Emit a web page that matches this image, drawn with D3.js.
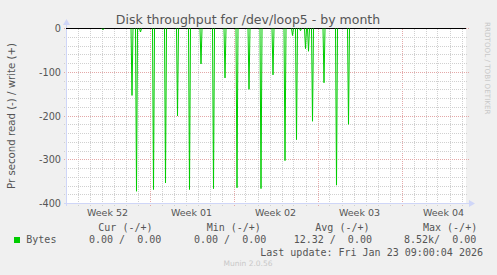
<!DOCTYPE html>
<html>
<head>
<meta charset="utf-8">
<script src="https://cdn.jsdelivr.net/npm/d3@7"></script>
<style>
  body { margin: 0; background: #f0f0f0; }
  svg { display: block; font-family: "DejaVu Sans", sans-serif; }
  .mono text { font-family: "DejaVu Sans Mono", monospace; white-space: pre; }
</style>
</head>
<body>
<svg width="497" height="275"></svg>
<script>
const svg = d3.select('svg');

const width = +svg.attr('width');
const height = +svg.attr('height');

// data (read bytes are drawn negative)
const startTime = '2025-12-21 01:00';
const endTime = '2026-01-23 09:00';
const spikeTimes = [
  '2025-12-24 03:00', '2025-12-26 13:00', '2025-12-26 22:00', '2025-12-27 06:00',
  '2025-12-28 08:00', '2025-12-29 08:00', '2025-12-30 08:00', '2025-12-31 08:00',
  '2026-01-01 07:00', '2026-01-02 08:00', '2026-01-03 07:00', '2026-01-04 07:00',
  '2026-01-05 07:00', '2026-01-06 07:00', '2026-01-07 07:00', '2026-01-08 07:00',
  '2026-01-08 22:00', '2026-01-09 06:00', '2026-01-09 14:00', '2026-01-10 00:00',
  '2026-01-10 06:00', '2026-01-10 14:00', '2026-01-11 13:00', '2026-01-12 14:00',
  '2026-01-13 14:00'
];
const spikeValues = [
  -3, -153, -372, -8,
  -368, -353, -200, -368,
  -81, -366, -113, -364,
  -139, -366, -106, -302,
  -16, -254, -5, -46,
  -52, -212, -124, -358,
  -219
];
const yTicks = [0, -100, -200, -300, -400];
const title = 'Disk throughput for /dev/loop5 - by month';
const yLabel = 'Pr second read (-) / write (+)';
const seriesName = 'Bytes';
const legendHeaders = ['Cur (-/+)', 'Min (-/+)', 'Avg (-/+)', 'Max (-/+)'];
const legendValues = ['0.00 /  0.00', '0.00 /  0.00', '12.32 /  0.00', '8.52k/  0.00'];
const lastUpdate = 'Last update: Fri Jan 23 09:00:04 2026';
const credit = 'RRDTOOL / TOBI OETIKER';
const version = 'Munin 2.0.56';

const parse = d3.utcParse('%Y-%m-%d %H:%M');
const start = parse(startTime);
const end = parse(endTime);
const step = 2 * 3600 * 1000;

const plot = { left: 66, right: 466, top: 28.5, bottom: 203.5 };
const textColor = '#555';
const green = '#00cc00';
const axisColor = '#cfd6f8';
const gridColor = '#d0d0d0';
const majorColor = '#e4a8a8';

const xScale = d3.scaleUtc()
  .domain([start, end])
  .range([plot.left, plot.right]);

const yScale = d3.scaleLinear()
  .domain([-400, 0])
  .range([plot.bottom, plot.top]);

svg.append('rect')
  .attr('width', width).attr('height', height)
  .attr('fill', '#f0f0f0');

svg.append('rect')
  .attr('x', plot.left).attr('y', plot.top)
  .attr('width', plot.right - plot.left)
  .attr('height', plot.bottom - plot.top)
  .attr('fill', '#fff');

const grid = svg.append('g')
  .attr('stroke-width', 1)
  .attr('stroke-dasharray', '1,1')
  .attr('shape-rendering', 'crispEdges');

// vertical grid: days minor, sundays major
const days = d3.utcDay.range(d3.utcDay.ceil(start), end);
const sundays = d3.utcSunday.range(d3.utcSunday.ceil(start), end);
const xPix = d => Math.round(xScale(d)) + 0.5;

grid.selectAll('line.vday').data(days)
  .enter().append('line')
    .attr('class', 'vday')
    .attr('x1', xPix).attr('x2', xPix)
    .attr('y1', plot.top).attr('y2', plot.bottom + 2)
    .attr('stroke', gridColor);

grid.selectAll('line.vweek').data(sundays)
  .enter().append('line')
    .attr('class', 'vweek')
    .attr('x1', xPix).attr('x2', xPix)
    .attr('y1', plot.top).attr('y2', plot.bottom + 2)
    .attr('stroke', majorColor);

// horizontal grid: every 20 minor, every 100 major
const yMinor = d3.range(-380, 0, 20).filter(v => v % 100 !== 0);
const yPix = v => Math.round(yScale(v) - 0.5) + 0.5;

grid.selectAll('line.hminor').data(yMinor)
  .enter().append('line')
    .attr('class', 'hminor')
    .attr('x1', plot.left - 2).attr('x2', plot.right + 2)
    .attr('y1', yPix).attr('y2', yPix)
    .attr('stroke', gridColor);

grid.selectAll('line.hmajor').data(yTicks.filter(v => v !== -400))
  .enter().append('line')
    .attr('class', 'hmajor')
    .attr('x1', plot.left - 2).attr('x2', plot.right + 3)
    .attr('y1', yPix).attr('y2', yPix)
    .attr('stroke', majorColor);

// axes
const axis = svg.append('g')
  .attr('stroke', axisColor)
  .attr('shape-rendering', 'crispEdges');

axis.append('line')
  .attr('x1', plot.left + 0.5).attr('x2', plot.left + 0.5)
  .attr('y1', plot.bottom + 2).attr('y2', 22);

axis.append('line')
  .attr('x1', plot.left - 2).attr('x2', plot.right + 4)
  .attr('y1', plot.bottom).attr('y2', plot.bottom);

svg.append('path')
  .attr('d', `M${plot.left - 3},25 L${plot.left + 0.5},19 L${plot.left + 4},25 Z`)
  .attr('fill', axisColor);

svg.append('path')
  .attr('d', `M${plot.right + 3},${plot.bottom - 3.5} L${plot.right + 9},${plot.bottom} L${plot.right + 3},${plot.bottom + 3.5} Z`)
  .attr('fill', axisColor);

// y tick labels
svg.append('g').selectAll('text').data(yTicks)
  .enter().append('text')
    .attr('x', 61)
    .attr('y', d => yScale(d) + 3.5)
    .attr('text-anchor', 'end')
    .attr('font-size', 9.7)
    .attr('fill', textColor)
    .text(d => d);

// week labels sit in the middle of each week
const weekStarts = d3.utcSunday.range(d3.utcSunday.floor(start), end)
  .filter(s => +s + 3.5 * 864e5 <= +end);
const weekFormat = d3.utcFormat('%V');

svg.append('g').selectAll('text').data(weekStarts)
  .enter().append('text')
    .attr('x', d => xScale(new Date(+d + 3.5 * 864e5)))
    .attr('y', 215.5)
    .attr('text-anchor', 'middle')
    .attr('font-size', 9.5)
    .attr('fill', textColor)
    .text(d => 'Week ' + weekFormat(new Date(+d + 3.5 * 864e5)));

// write (+) is zero all month: black line along 0
svg.append('line')
  .attr('x1', plot.left).attr('x2', plot.right)
  .attr('y1', plot.top).attr('y2', plot.top)
  .attr('stroke', '#000')
  .attr('stroke-width', 1);

// read (-) spikes
const spikes = spikeTimes.map((t, i) => {
  const d = parse(t);
  return [[new Date(+d - step), 0], [d, spikeValues[i]], [new Date(+d + step), 0]];
});

const line = d3.line()
  .x(d => xScale(d[0]))
  .y(d => yScale(d[1]));

svg.append('g').selectAll('path').data(spikes)
  .enter().append('path')
    .attr('d', line)
    .attr('fill', 'none')
    .attr('stroke', green)
    .attr('stroke-width', 1)
    .attr('stroke-linejoin', 'miter');

// title and labels
svg.append('text')
  .attr('x', 248).attr('y', 24)
  .attr('text-anchor', 'middle')
  .attr('font-size', 12.5)
  .attr('fill', textColor)
  .text(title);

svg.append('text')
  .attr('transform', `translate(15,${(plot.top + plot.bottom) / 2}) rotate(-90)`)
  .attr('text-anchor', 'middle')
  .attr('font-size', 10.2)
  .attr('fill', textColor)
  .text(yLabel);

svg.append('text')
  .attr('transform', 'translate(485,22) rotate(90)')
  .attr('font-size', 7.2)
  .attr('fill', '#c8c8c8')
  .text(credit);

// legend
const headerX = [98.3, 206.7, 315.3, 423];
const valueX = [89, 194, 293.7, 404];

svg.append('rect')
  .attr('x', 14).attr('y', 237)
  .attr('width', 6).attr('height', 6)
  .attr('fill', green);

const legend = svg.append('g')
  .attr('class', 'mono')
  .attr('font-size', 10)
  .attr('fill', textColor);

legend.append('text').attr('x', 26.3).attr('y', 243).text(seriesName);

legend.selectAll('text.head').data(legendHeaders)
  .enter().append('text')
    .attr('class', 'head')
    .attr('xml:space', 'preserve')
    .attr('x', (d, i) => headerX[i])
    .attr('y', 230.5)
    .text(d => d);

legend.selectAll('text.val').data(legendValues)
  .enter().append('text')
    .attr('class', 'val')
    .attr('xml:space', 'preserve')
    .attr('x', (d, i) => valueX[i])
    .attr('y', 243)
    .text(d => d);

legend.append('text')
  .attr('x', 483).attr('y', 255.5)
  .attr('text-anchor', 'end')
  .text(lastUpdate);

svg.append('text')
  .attr('x', 248).attr('y', 266)
  .attr('text-anchor', 'middle')
  .attr('font-size', 7.5)
  .attr('fill', '#c8c8c8')
  .text(version);
</script>
</body>
</html>
